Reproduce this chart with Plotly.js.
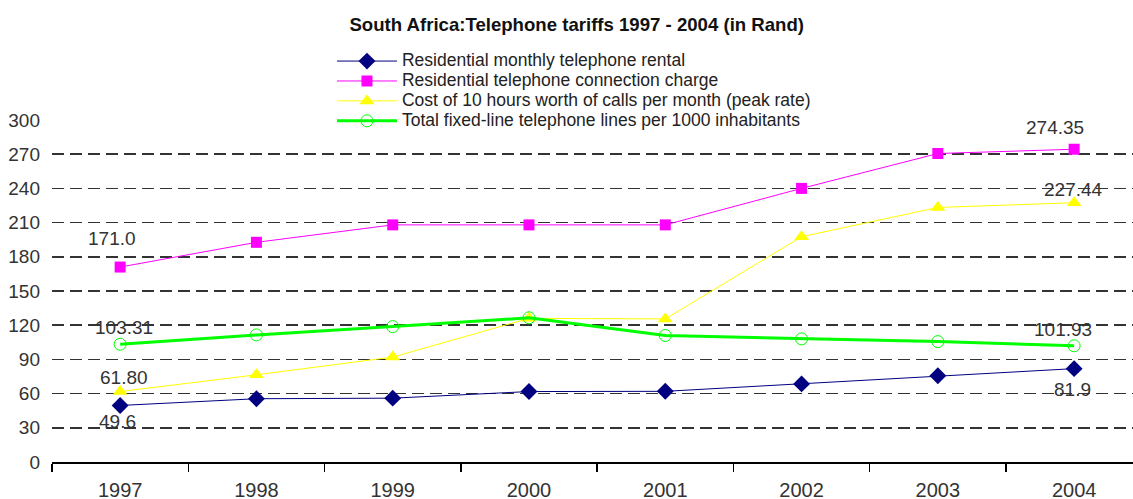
<!DOCTYPE html>
<html>
<head>
<meta charset="utf-8">
<script src="https://cdn.plot.ly/plotly-3.0.1.min.js"></script>
<style>html,body{margin:0;padding:0;background:#fff;}#chart{width:1133px;height:499px;}</style>
</head>
<body>
<div id="chart"></div>
<script>
// ---- data ----
const years = ['1997', '1998', '1999', '2000', '2001', '2002', '2003', '2004'];
const rental = [49.6, 55.5, 56.0, 61.8, 62.0, 68.5, 75.6, 81.9];
const connection = [171.0, 192.7, 208.0, 208.0, 208.0, 240.0, 270.6, 274.35];
const calls = [61.80, 76.5, 92.0, 126.0, 125.5, 197.6, 223.3, 227.44];
const lines = [103.31, 111.5, 118.8, 126.5, 111.0, 108.0, 105.6, 101.93];

const rentalLabels = ['49.6', null, null, null, null, null, null, '81.9'];
const connectionLabels = ['171.0', null, null, null, null, null, null, '274.35'];
const callsLabels = ['61.80', null, null, null, null, null, null, '227.44'];
const linesLabels = ['103.31', null, null, null, null, null, null, '101.93'];

const seriesNames = [
  'Residential monthly telephone rental',
  'Residential telephone connection charge',
  'Cost of 10 hours worth of calls per month (peak rate)',
  'Total fixed-line telephone lines per 1000 inhabitants'
];
const yTicks = [0, 30, 60, 90, 120, 150, 180, 210, 240, 270, 300];

// ---- styles ----
const FONT = '"Liberation Sans", Arial, sans-serif';
const styles = [
  {color: '#000080', width: 1, symbol: 'diamond', size: 13, lw: 0},
  {color: '#FF00FF', width: 1, symbol: 'square', size: 11, lw: 0},
  {color: '#FFFF00', width: 1, symbol: 'triangle-up', size: 13, lw: 0},
  {color: '#00FF00', width: 3, symbol: 'circle-open', size: 12, lw: 1}
];
// label offsets (px) relative to the point: [first, last]
const labelShifts = [
  [[-3, -16], [-2, -21]],
  [[-8, 29], [-19, 22]],
  [[4, 14], [-1, 13]],
  [[4, 17], [-11, 16]]
];

const allValues = [rental, connection, calls, lines];
const allLabels = [rentalLabels, connectionLabels, callsLabels, linesLabels];

const traces = allValues.map((vals, i) => ({
  type: 'scatter',
  mode: 'lines+markers',
  x: years,
  y: vals,
  name: '<span style="font-size:17.5px">' + seriesNames[i] + '</span>',
  line: {color: styles[i].color, width: styles[i].width},
  marker: {color: styles[i].color, symbol: styles[i].symbol, size: styles[i].size,
           line: {color: styles[i].color, width: styles[i].lw}},
  cliponaxis: false
}));

const annotations = [];
allLabels.forEach((labs, i) => {
  let k = 0;
  labs.forEach((t, j) => {
    if (t === null) return;
    const sh = labelShifts[i][k++];
    annotations.push({
      x: j, y: allValues[i][j], xref: 'x', yref: 'y',
      text: t, showarrow: false, xshift: sh[0], yshift: sh[1],
      xanchor: 'center', yanchor: 'middle',
      font: {family: FONT, size: 19, color: '#333'}
    });
  });
});

const layout = {
  width: 1133, height: 499,
  margin: {l: 52, r: 0, t: 120, b: 37},
  paper_bgcolor: '#fff', plot_bgcolor: '#fff',
  font: {family: FONT, color: '#333'},
  title: {
    text: '<b>South Africa:Telephone tariffs 1997 - 2004 (in Rand)</b>',
    font: {family: FONT, size: 18.6, color: '#111'},
    x: 0.509, xanchor: 'center', y: 0.951, yanchor: 'middle', yref: 'container'
  },
  showlegend: true,
  legend: {
    x: 0.259, xanchor: 'left', y: 1.216, yanchor: 'top',
    font: {family: FONT, size: 13, color: '#222'},
    bgcolor: 'rgba(0,0,0,0)', itemwidth: 60, tracegroupgap: 0
  },
  xaxis: {
    type: 'category', range: [-0.5, 7.432],
    tickson: 'boundaries', ticks: 'outside', ticklen: 8, tickwidth: 1.5, tickcolor: '#000',
    showline: true, linecolor: '#000', linewidth: 1.5,
    showgrid: false, zeroline: false,
    tickfont: {family: FONT, size: 20, color: '#333'},
    ticklabelstandoff: 9
  },
  yaxis: {
    range: [0, 300], tickvals: yTicks, ticktext: yTicks.map(String),
    showline: false, ticks: '', zeroline: false,
    showgrid: true, gridcolor: '#333', gridwidth: 1.5, griddash: '12px,6px',
    tickfont: {family: FONT, size: 19, color: '#333'},
    ticklabelstandoff: 11
  },
  annotations: annotations
};

Plotly.newPlot('chart', traces, layout, {displayModeBar: false, staticPlot: true});
</script>
</body>
</html>
